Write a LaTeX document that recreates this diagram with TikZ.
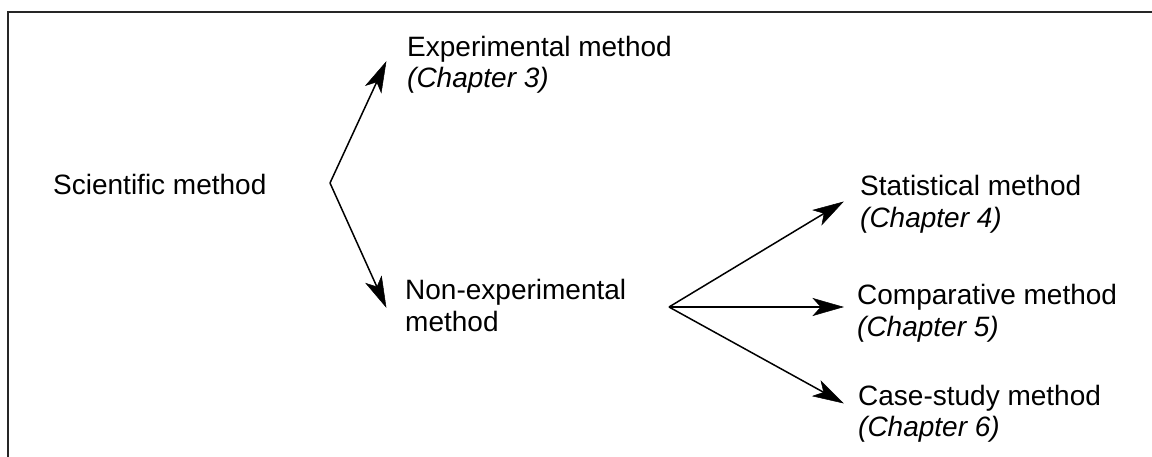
\documentclass[tikz,border=0pt]{standalone}
\usepackage{fontspec}
\setmainfont{Liberation Sans}
\usetikzlibrary{calc}
\tikzset{
  lbl/.style={inner sep=0pt,anchor=base west,font=\fontsize{28}{32}\selectfont},
  chap/.style={lbl,font=\fontsize{28}{32}\selectfont\itshape},
  arr/.style={line width=1.5pt,shorten >=12pt},
  headfill/.style={fill=black,draw=black,line width=0.5pt,line join=miter},
  frame/.style={line width=2pt,draw=black!85}}
\newcommand{\headat}[2]{%
  \filldraw[headfill] (#1) -- ($(#1)!31pt!16:(#2)$) -- ($(#1)!22pt!(#2)$) -- ($(#1)!31pt!-16:(#2)$) -- cycle;}
\begin{document}
\begin{tikzpicture}[x=1pt,y=-1pt]
\useasboundingbox (0,0) rectangle (1152,457);
\draw[frame] (8,457) -- (8,12) -- (1152,12);

\node[lbl] (sci) at (53,195) {Scientific method};
\node[lbl] (exp) at (407,57) {Experimental method};
\node[chap] (expch) at (407,88) {(Chapter 3)};
\node[lbl] (non) at (405,299) {Non-experimental};
\node[lbl] (non2) at (405,331) {method};
\node[lbl] (stat) at (860,196) {Statistical method};
\node[chap] (statch) at (860,228) {(Chapter 4)};
\node[lbl] (comp) at (857,305) {Comparative method};
\node[chap] (compch) at (857,336) {(Chapter 5)};
\node[lbl] (case) at (858,405) {Case-study method};
\node[chap] (casech) at (858,436) {(Chapter 6)};

\coordinate (b1) at (330,183);
\coordinate (b2) at (669,307);
\coordinate (t-exp) at (386,62);
\coordinate (t-non) at (386,307);
\coordinate (t-stat) at (843,202);
\coordinate (t-comp) at (843,307);
\coordinate (t-case) at (843,403);

\draw[arr] (b1) -- (t-exp);  \headat{t-exp}{b1}
\draw[arr] (b1) -- (t-non);  \headat{t-non}{b1}
\draw[arr] (b2) -- (t-stat); \headat{t-stat}{b2}
\draw[arr] (b2) -- (t-comp); \headat{t-comp}{b2}
\draw[arr] (b2) -- (t-case); \headat{t-case}{b2}
\end{tikzpicture}
\end{document}
